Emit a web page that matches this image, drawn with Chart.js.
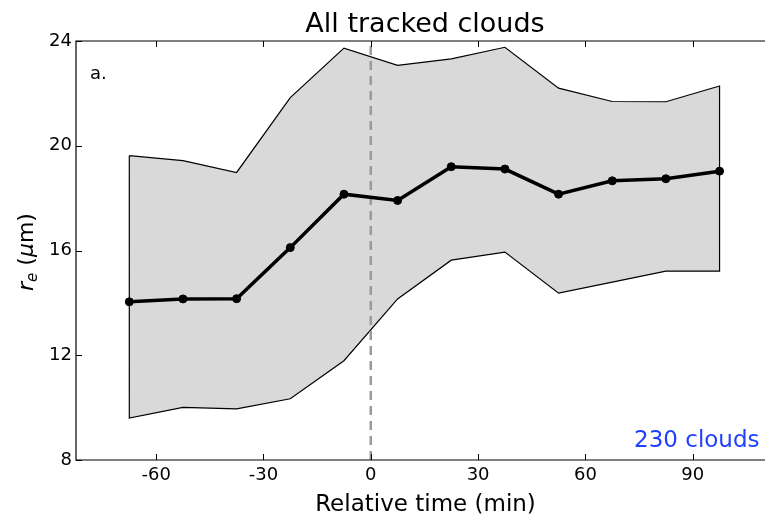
<!DOCTYPE html>
<html>
<head>
<meta charset="utf-8">
<script src="https://cdn.jsdelivr.net/npm/chart.js@4/dist/chart.umd.min.js"></script>
<style>
  html, body { margin: 0; padding: 0; background: #fff; overflow: hidden; }
  #wrap { width: 765px; height: 517px; }
</style>
</head>
<body>
<div id="wrap"><canvas id="c" width="765" height="517"></canvas></div>
<script>
// Bin centres (minutes relative to the reference time)
const times = [-67.5, -52.5, -37.5, -22.5, -7.5, 7.5, 22.5, 37.5, 52.5, 67.5, 82.5, 97.5];
// Mean effective radius per bin (µm)
const meanRe = [14.04, 14.15, 14.16, 16.11, 18.15, 17.91, 19.20, 19.11, 18.15, 18.66, 18.74, 19.03];
// Upper and lower edges of the spread band (µm)
const upperRe = [19.62, 19.43, 18.98, 21.84, 23.73, 23.07, 23.32, 23.76, 22.20, 21.69, 21.68, 22.28];
const lowerRe = [9.60, 10.01, 9.95, 10.34, 11.79, 14.15, 15.63, 15.94, 14.37, 14.79, 15.21, 15.21];
// Axis ticks and visible ranges
const xTicks = [-60, -30, 0, 30, 60, 90];
const yTicks = [8, 12, 16, 20, 24];
const xRange = [-82.4, 110.2];
const yRange = [8, 24];

const pts = (xs, ys) => xs.map((x, i) => ({ x: x, y: ys[i] }));

// Closed outline of the band: upper edge forward, lower edge back
const outline = pts(times, upperRe)
  .concat(pts(times, lowerRe).reverse())
  .concat([{ x: times[0], y: upperRe[0] }]);

const FONT = "'DejaVu Sans', sans-serif";

const framePlugin = {
  id: 'frame',
  afterDraw(chart) {
    const ctx = chart.ctx;
    const a = chart.chartArea;
    const xs = chart.scales.x, ys = chart.scales.y;
    ctx.save();
    // axes frame (the right side runs past the canvas edge)
    ctx.strokeStyle = '#000';
    ctx.lineWidth = 1.2;
    ctx.beginPath();
    ctx.moveTo(chart.width + 2, a.top); ctx.lineTo(a.left, a.top);
    ctx.lineTo(a.left, a.bottom); ctx.lineTo(chart.width + 2, a.bottom);
    ctx.stroke();
    // inward tick marks
    ctx.lineWidth = 1;
    const L = 6;
    ctx.beginPath();
    xTicks.forEach(v => {
      const px = Math.round(xs.getPixelForValue(v)) + 0.5;
      ctx.moveTo(px, a.bottom); ctx.lineTo(px, a.bottom - L);
      ctx.moveTo(px, a.top); ctx.lineTo(px, a.top + L);
    });
    yTicks.forEach(v => {
      const py = Math.round(ys.getPixelForValue(v)) + 0.5;
      ctx.moveTo(a.left, py); ctx.lineTo(a.left + L, py);
    });
    ctx.stroke();

    // title
    ctx.fillStyle = '#000';
    ctx.textAlign = 'center';
    ctx.textBaseline = 'alphabetic';
    ctx.font = '27px ' + FONT;
    ctx.fillText('All tracked clouds', 425, 31.5);

    // panel letter
    ctx.textAlign = 'left';
    ctx.font = '18px ' + FONT;
    ctx.fillText('a.', 90, 79);

    // sample size note
    ctx.textAlign = 'right';
    ctx.fillStyle = '#1f3fff';
    ctx.font = '23px ' + FONT;
    ctx.fillText('230 clouds', 759.5, 446.5);

    // x-axis title
    ctx.fillStyle = '#000';
    ctx.textAlign = 'center';
    ctx.font = '23px ' + FONT;
    ctx.fillText('Relative time (min)', 425.5, 510.5);

    // y-axis title: r_e (µm)
    ctx.translate(33, 252);
    ctx.rotate(-Math.PI / 2);
    const parts = [
      { t: 'r', f: 'italic 22px ' + FONT, dy: 0 },
      { t: 'e', f: 'italic 15px ' + FONT, dy: 4 },
      { t: ' (', f: '22px ' + FONT, dy: 0 },
      { t: 'μ', f: 'italic 22px ' + FONT, dy: 0 },
      { t: 'm)', f: '22px ' + FONT, dy: 0 }
    ];
    let w = 0;
    parts.forEach(p => { ctx.font = p.f; w += ctx.measureText(p.t).width; });
    let x = -w / 2;
    ctx.textAlign = 'left';
    parts.forEach(p => {
      ctx.font = p.f;
      ctx.fillText(p.t, x, p.dy);
      x += ctx.measureText(p.t).width;
    });
    ctx.restore();
  }
};

new Chart(document.getElementById('c'), {
  type: 'scatter',
  data: {
    datasets: [
      {
        label: 'upper',
        data: pts(times, upperRe),
        showLine: true,
        borderWidth: 0,
        borderColor: 'rgba(0,0,0,0)',
        backgroundColor: '#d9d9d9',
        pointRadius: 0,
        fill: '+1',
        order: 5
      },
      {
        label: 'lower',
        data: pts(times, lowerRe),
        showLine: true,
        borderWidth: 0,
        borderColor: 'rgba(0,0,0,0)',
        pointRadius: 0,
        fill: false,
        order: 5
      },
      {
        label: 'band edge',
        data: outline,
        showLine: true,
        borderColor: '#000',
        borderWidth: 1.2,
        pointRadius: 0,
        fill: false,
        order: 4
      },
      {
        label: 'zero',
        data: [{ x: 0, y: yRange[0] }, { x: 0, y: yRange[1] }],
        showLine: true,
        borderColor: '#9a9a9a',
        borderWidth: 2.5,
        borderDash: [9, 6],
        pointRadius: 0,
        fill: false,
        order: 3
      },
      {
        label: 'mean',
        data: pts(times, meanRe),
        showLine: true,
        borderColor: '#000',
        backgroundColor: '#000',
        borderWidth: 3.5,
        pointRadius: 4,
        pointBorderWidth: 1,
        pointBackgroundColor: '#000',
        fill: false,
        order: 1
      }
    ]
  },
  options: {
    responsive: false,
    animation: false,
    events: [],
    layout: { autoPadding: false, padding: { top: 41, right: 0, left: 0, bottom: 0 } },
    plugins: { legend: { display: false }, tooltip: { enabled: false }, title: { display: false } },
    scales: {
      x: {
        type: 'linear',
        min: xRange[0], max: xRange[1],
        grid: { display: false, drawTicks: false },
        border: { display: false },
        afterBuildTicks: s => { s.ticks = xTicks.map(v => ({ value: v })); },
        afterFit: s => { s.height = 57; },
        ticks: { color: '#000', font: { family: FONT, size: 18 }, padding: 5, maxRotation: 0,
                 callback: v => String(v) }
      },
      y: {
        type: 'linear',
        min: yRange[0], max: yRange[1],
        grid: { display: false, drawTicks: false },
        border: { display: false },
        afterBuildTicks: s => { s.ticks = yTicks.map(v => ({ value: v })); },
        afterFit: s => { s.width = 76; },
        ticks: { color: '#000', font: { family: FONT, size: 18 }, padding: 4 }
      }
    }
  },
  plugins: [framePlugin]
});
</script>
</body>
</html>
